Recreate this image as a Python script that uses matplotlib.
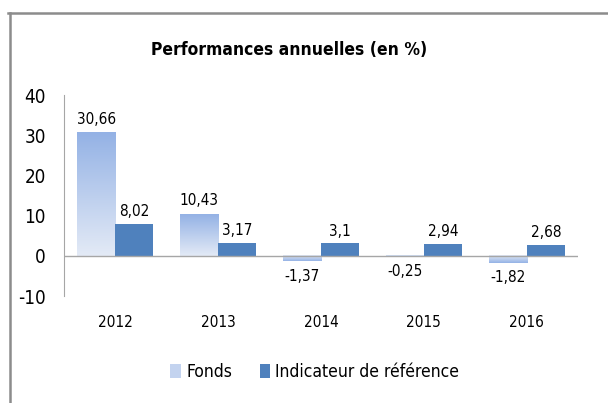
import matplotlib.pyplot as plt
import numpy as np
from matplotlib.colors import LinearSegmentedColormap
from matplotlib.lines import Line2D
from matplotlib.patches import Patch

years = ['2012', '2013', '2014', '2015', '2016']
fonds = [30.66, 10.43, -1.37, -0.25, -1.82]
indicateur = [8.02, 3.17, 3.1, 2.94, 2.68]

plt.rcParams['font.family'] = ['DejaVu Sans']
plt.rcParams['font.stretch'] = 'condensed'
plt.rcParams['axes.unicode_minus'] = False

fig = plt.figure(figsize=(6.08, 4.03), dpi=100)
ax = fig.add_axes([0.105, 0.2655, 0.846, 0.4985])

x = np.arange(len(years))
w = 0.37
grad = LinearSegmentedColormap.from_list('g', ['#e3eaf6', '#94b2e5'])

# Fonds: gradient bars, light at base, dark at end
bars_f = ax.bar(x - w / 2, fonds, w, color='none', edgecolor='none')
for b, v in zip(bars_f, fonds):
    x0, y0 = b.get_x(), b.get_y()
    x1, y1 = x0 + b.get_width(), y0 + b.get_height()
    g = np.linspace(0, 1, 100).reshape(-1, 1)
    if v < 0:
        g = g[::-1]
    ax.imshow(g, cmap=grad, extent=[x0, x1, min(y0, y1), max(y0, y1)],
              origin='lower', aspect='auto', zorder=2)

ax.bar(x + w / 2, indicateur, w, color='#4f81bd', zorder=2)

for i, v in enumerate(fonds):
    txt = f'{v:.2f}'.rstrip('0').rstrip('.').replace('.', ',')
    if v >= 0:
        ax.text(i - w / 2, v + 1.5, txt, ha='center', va='bottom', fontsize=11)
    else:
        ax.text(i - w / 2, v - 1.8, txt, ha='center', va='top', fontsize=11)
for i, v in enumerate(indicateur):
    txt = f'{v:.2f}'.rstrip('0').rstrip('.').replace('.', ',')
    ax.text(i + w / 2, v + 1.2, txt, ha='center', va='bottom', fontsize=11)

ax.set_xlim(-0.5, len(years) - 0.5)
ax.set_ylim(-10, 40)
ax.set_yticks([-10, 0, 10, 20, 30, 40])
ax.tick_params(axis='y', length=0, labelsize=13.5, pad=13)
ax.set_xticks(x)
ax.set_xticklabels(years)
ax.tick_params(axis='x', length=0, labelsize=11, pad=14)

for s in ['top', 'right', 'bottom']:
    ax.spines[s].set_visible(False)
ax.spines['left'].set_color('#a6a6a6')
ax.axhline(0, color='#a6a6a6', lw=1, zorder=3)

fig.text(0.476, 0.875, 'Performances annuelles (en %)', ha='center', va='center',
         fontsize=12.5, fontweight='bold')

handles = [Patch(facecolor='#c3d3ef', edgecolor='none'),
           Patch(facecolor='#4f81bd', edgecolor='none')]
fig.legend(handles, ['Fonds', 'Indicateur de référence'], loc='center',
           bbox_to_anchor=(0.518, 0.077), ncol=2, frameon=False, fontsize=12.5,
           handlelength=0.6, handleheight=0.9, handletextpad=0.3, columnspacing=1.6)

fig.add_artist(Line2D([8 / 608, 1], [1 - 13 / 403] * 2, color='#8c8c8c', lw=1.8,
                      transform=fig.transFigure))
fig.add_artist(Line2D([10 / 608] * 2, [0, 1 - 13 / 403], color='#8c8c8c', lw=1.8,
                      transform=fig.transFigure))

fig.savefig('out.png', dpi=100)
